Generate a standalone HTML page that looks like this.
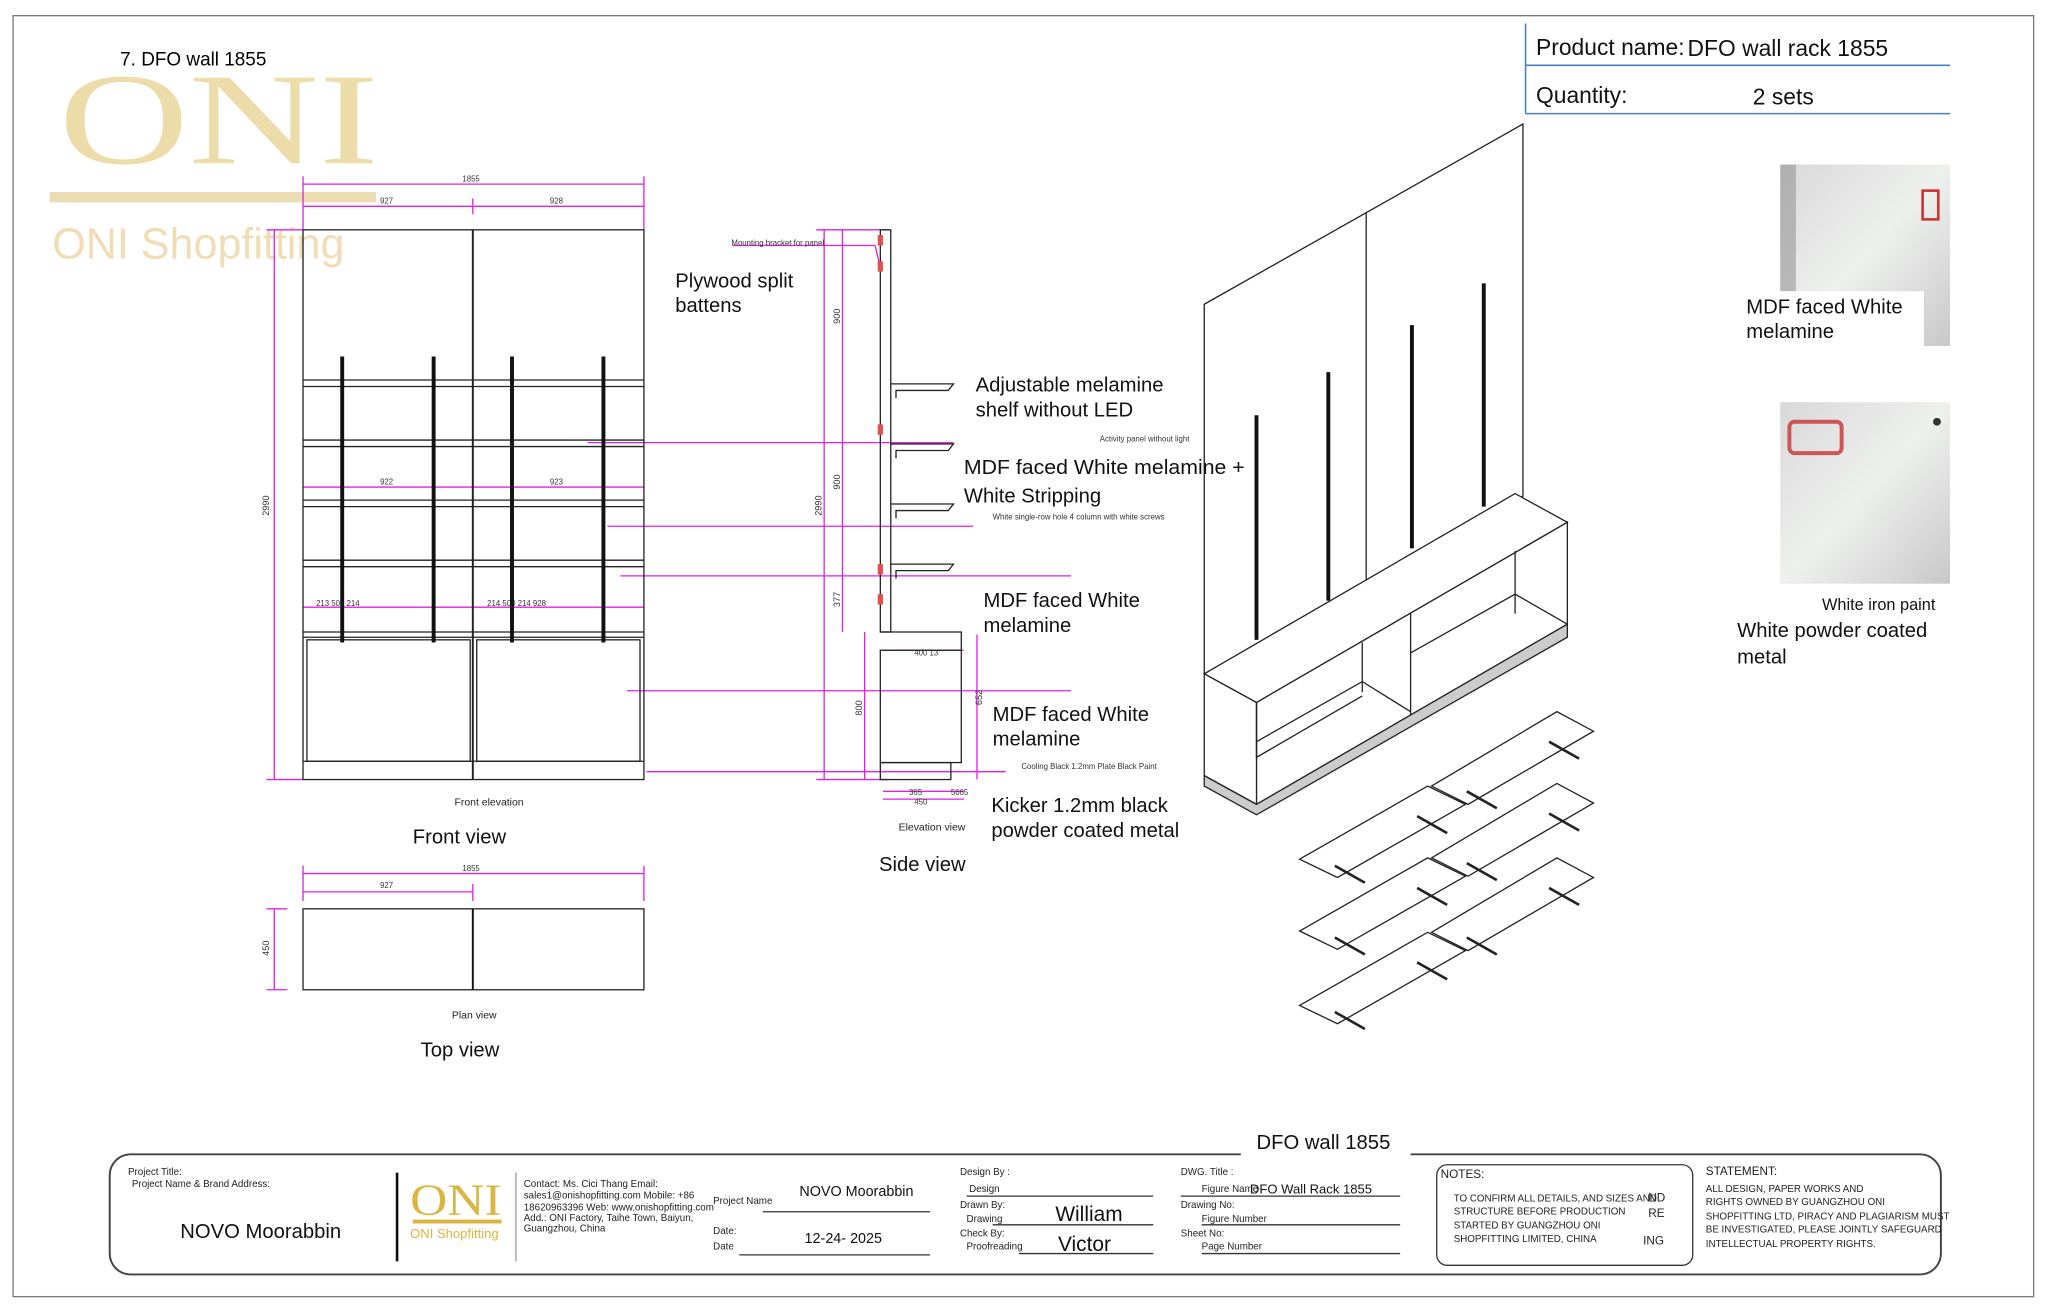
<!DOCTYPE html>
<html><head><meta charset="utf-8"><style>
html,body{margin:0;padding:0;background:#fff;}
svg{display:block;}
</style></head><body>
<svg width="2048" height="1311" viewBox="0 0 1568 1004" preserveAspectRatio="none" xmlns="http://www.w3.org/2000/svg" font-family="Liberation Sans, sans-serif">
<rect x="0" y="0" width="1568" height="1004" fill="#fff"/>
<rect x="10" y="12" width="1547" height="981" fill="none" stroke="#777" stroke-width="1"/>
<!-- logo -->
<text x="45" y="125" style="font-family:'Liberation Serif',serif" font-size="100" fill="#ecdcaa" textLength="245" lengthAdjust="spacingAndGlyphs">ONI</text>
<rect x="38" y="147" width="250" height="8" fill="#ecdcb4"/>
<text x="40" y="198" font-size="33" fill="#f0ddb6">ONI Shopfitting</text>
<text x="92" y="50" font-size="14.5" fill="#000">7. DFO wall 1855</text>

<g stroke="#e020e0" stroke-width="1" fill="none">
<line x1="232" y1="141" x2="493" y2="141"/><line x1="232" y1="158" x2="493" y2="158"/>
<line x1="232" y1="135" x2="232" y2="176"/><line x1="362" y1="152" x2="362" y2="164"/><line x1="493" y1="135" x2="493" y2="176"/>
<line x1="210" y1="176" x2="210" y2="597"/><line x1="204" y1="176" x2="232" y2="176"/><line x1="204" y1="597" x2="232" y2="597"/>
<line x1="232" y1="373" x2="493" y2="373"/>
<line x1="232" y1="465" x2="493" y2="465"/>
<line x1="450" y1="339" x2="730" y2="339"/>
<line x1="465" y1="403" x2="745" y2="403"/>
<line x1="475" y1="441" x2="820" y2="441"/>
<line x1="480" y1="529" x2="820" y2="529"/>
<line x1="495" y1="591" x2="770" y2="591"/>
<line x1="232" y1="669" x2="493" y2="669"/><line x1="232" y1="683" x2="362" y2="683"/>
<line x1="232" y1="663" x2="232" y2="690"/><line x1="493" y1="663" x2="493" y2="690"/><line x1="362" y1="677" x2="362" y2="690"/>
<line x1="210" y1="696" x2="210" y2="758"/><line x1="204" y1="696" x2="220" y2="696"/><line x1="204" y1="758" x2="220" y2="758"/>
<line x1="631" y1="176" x2="631" y2="597"/><line x1="645" y1="176" x2="645" y2="484"/><line x1="662" y1="484" x2="662" y2="597"/>
<line x1="625" y1="176" x2="680" y2="176"/><line x1="625" y1="597" x2="680" y2="597"/>
<line x1="561" y1="188" x2="670" y2="188"/><line x1="670" y1="188" x2="674" y2="205"/>
<line x1="676" y1="498" x2="738" y2="498"/><line x1="748" y1="486" x2="748" y2="597"/>
<line x1="676" y1="606" x2="738" y2="606"/><line x1="676" y1="612" x2="738" y2="612"/>
</g>
<g font-size="6" fill="#333">
<text x="354" y="139">1855</text><text x="291" y="156">927</text><text x="421" y="156">928</text>
<text x="291" y="371">922</text><text x="421" y="371">923</text>
<text x="242" y="464">213 500 214</text><text x="373" y="464">214 500 214 928</text>
<text x="354" y="667">1855</text><text x="291" y="680">927</text>
<text x="560" y="188">Mounting bracket for panel</text>
<text x="842" y="338">Activity panel without light</text>
<text x="760" y="398">White single-row hole 4 column with white screws</text>
<text x="782" y="589">Cooling Black 1.2mm Plate Black Paint</text>
<text x="700" y="502">400 13</text><text x="696" y="609">365</text><text x="728" y="609">5665</text><text x="700" y="616">450</text>
</g>
<g font-size="7" fill="#333">
<text transform="translate(206,395) rotate(-90)">2990</text>
<text transform="translate(206,732) rotate(-90)">450</text>
<text transform="translate(629,395) rotate(-90)">2990</text>
<text transform="translate(643,248) rotate(-90)">900</text>
<text transform="translate(643,375) rotate(-90)">900</text>
<text transform="translate(643,465) rotate(-90)">377</text>
<text transform="translate(660,548) rotate(-90)">800</text>
<text transform="translate(752,540) rotate(-90)">652</text>
</g>

<g stroke="#222" fill="none" stroke-width="1">
<rect x="232" y="176" width="261" height="421"/>
<line x1="362" y1="176" x2="362" y2="597" stroke-width="1.5"/>
<line x1="232" y1="291" x2="493" y2="291"/><line x1="232" y1="296" x2="493" y2="296"/>
<line x1="232" y1="337" x2="493" y2="337"/><line x1="232" y1="342" x2="493" y2="342"/>
<line x1="232" y1="383" x2="493" y2="383"/><line x1="232" y1="388" x2="493" y2="388"/>
<line x1="232" y1="429" x2="493" y2="429"/><line x1="232" y1="434" x2="493" y2="434"/>
<line x1="232" y1="484" x2="493" y2="484"/><line x1="232" y1="488" x2="493" y2="488"/>
<rect x="235" y="490" width="125" height="93"/><rect x="365" y="490" width="125" height="93"/>
<line x1="232" y1="583" x2="493" y2="583"/>
</g>
<g stroke="#111" stroke-width="3">
<line x1="262" y1="273" x2="262" y2="492"/><line x1="332" y1="273" x2="332" y2="492"/>
<line x1="392" y1="273" x2="392" y2="492"/><line x1="462" y1="273" x2="462" y2="492"/>
</g>
<text x="348" y="617" font-size="8" fill="#222">Front elevation</text>
<text x="316" y="646" font-size="15.5" fill="#111">Front view</text>
<rect x="232" y="696" width="261" height="62" fill="none" stroke="#222"/>
<line x1="362" y1="696" x2="362" y2="758" stroke="#111" stroke-width="1.5"/>
<text x="346" y="780" font-size="8" fill="#222">Plan view</text>
<text x="322" y="809" font-size="15.5" fill="#111">Top view</text>

<g stroke="#222" fill="none">
<rect x="674" y="176" width="8" height="308"/>
<rect x="674" y="498" width="62" height="86"/>
<rect x="674" y="584" width="54" height="13"/>
<path d="M682 294 H730 L726 299 H686 V305"/>
<path d="M682 340 H730 L726 345 H686 V351"/>
<path d="M682 386 H730 L726 391 H686 V397"/>
<path d="M682 432 H730 L726 437 H686 V443"/>
<path d="M674 484 H736 V498"/>
</g>
<g fill="#e05050"><rect x="672" y="180" width="4" height="8"/><rect x="672" y="200" width="4" height="8"/><rect x="672" y="325" width="4" height="8"/><rect x="672" y="432" width="4" height="8"/><rect x="672" y="455" width="4" height="8"/></g>
<text x="688" y="636" font-size="8" fill="#222">Elevation view</text>
<text x="673" y="667" font-size="15.5" fill="#111">Side view</text>

<!-- isometric -->
<g stroke="#222" fill="none" stroke-width="1">
<polygon points="922,233 1166,95 1166,380 922,516"/>
<line x1="1046" y1="163" x2="1046" y2="446"/>
<polygon points="922,516 1160,378 1200,400 962,538" fill="#fff"/>
<polygon points="962,538 1200,400 1200,478 962,616" fill="#fff"/>
<polygon points="922,516 962,538 962,616 922,594" fill="#fff"/>
<line x1="1080" y1="469" x2="1080" y2="548"/>
<line x1="1043" y1="492" x2="1043" y2="530"/>
<line x1="1160" y1="422" x2="1160" y2="470"/>
<polyline points="962,568 1043,522 1080,545"/>
<polyline points="1080,500 1160,455 1200,478"/>
<polyline points="962,538 962,580 1043,533"/>
<polygon points="922,594 962,616 1200,478 1200,488 962,624 922,602" fill="#ccc"/>
</g>
<g stroke="#111" stroke-width="3">
<line x1="962" y1="318" x2="962" y2="490"/><line x1="1017" y1="285" x2="1017" y2="460"/>
<line x1="1081" y1="249" x2="1081" y2="420"/><line x1="1136" y1="217" x2="1136" y2="388"/>
</g>
<g stroke="#222" fill="#fff">
<polygon points="995,658 1093,602 1122,616 1024,672"/><polygon points="1096,602 1192,545 1220,560 1124,616"/>
<polygon points="995,713 1093,657 1122,671 1024,727"/><polygon points="1096,657 1192,600 1220,615 1124,671"/>
<polygon points="995,770 1093,714 1122,728 1024,784"/><polygon points="1096,714 1192,657 1220,672 1124,728"/>
</g>
<g stroke="#222" stroke-width="2">
<line x1="1022" y1="663" x2="1045" y2="676"/><line x1="1085" y1="625" x2="1108" y2="638"/>
<line x1="1123" y1="606" x2="1146" y2="619"/><line x1="1186" y1="568" x2="1209" y2="581"/>
<line x1="1022" y1="718" x2="1045" y2="731"/><line x1="1085" y1="680" x2="1108" y2="693"/>
<line x1="1123" y1="661" x2="1146" y2="674"/><line x1="1186" y1="623" x2="1209" y2="636"/>
<line x1="1022" y1="775" x2="1045" y2="788"/><line x1="1085" y1="737" x2="1108" y2="750"/>
<line x1="1123" y1="718" x2="1146" y2="731"/><line x1="1186" y1="680" x2="1209" y2="693"/>
</g>

<g font-size="15.5" fill="#111">
<text x="517" y="220">Plywood split</text><text x="517" y="239">battens</text>
<text x="747" y="300">Adjustable melamine</text><text x="747" y="319">shelf without LED</text>
<text x="738" y="363" textLength="215" lengthAdjust="spacingAndGlyphs">MDF faced White melamine +</text><text x="738" y="385">White Stripping</text>
<text x="753" y="465">MDF faced White</text><text x="753" y="484">melamine</text>
<text x="760" y="552">MDF faced White</text><text x="760" y="571">melamine</text>
<text x="759" y="622">Kicker 1.2mm black</text><text x="759" y="641">powder coated metal</text>
</g>

<g stroke="#4a7fc0" stroke-width="1.2">
<line x1="1168" y1="18" x2="1168" y2="87"/><line x1="1168" y1="50" x2="1493" y2="50"/><line x1="1168" y1="87" x2="1493" y2="87"/>
</g>
<text x="1176" y="42" font-size="17.5" fill="#111">Product name:</text>
<text x="1292" y="43" font-size="17.5" fill="#111">DFO wall rack 1855</text>
<text x="1176" y="79" font-size="17.5" fill="#111">Quantity:</text>
<text x="1342" y="80" font-size="17.5" fill="#111">2 sets</text>

<defs><linearGradient id="g1" x1="0" y1="0" x2="1" y2="1"><stop offset="0" stop-color="#d8d8d8"/><stop offset="0.5" stop-color="#eef0ee"/><stop offset="1" stop-color="#c8c8c8"/></linearGradient></defs>
<rect x="1363" y="126" width="130" height="139" fill="url(#g1)"/>
<rect x="1363" y="126" width="12" height="100" fill="#888" opacity="0.5"/>
<rect x="1472" y="146" width="12" height="22" fill="none" stroke="#c33" stroke-width="2"/>
<rect x="1333" y="223" width="140" height="42" fill="#fff"/>
<text x="1337" y="240" font-size="15.5" fill="#111">MDF faced White</text>
<text x="1337" y="259" font-size="15.5" fill="#111">melamine</text>
<rect x="1363" y="308" width="130" height="139" fill="url(#g1)"/>
<rect x="1370" y="323" width="40" height="24" rx="4" fill="none" stroke="#c55" stroke-width="3"/>
<circle cx="1483" cy="323" r="3" fill="#333"/>
<text x="1395" y="467" font-size="12.5" fill="#111">White iron paint</text>
<text x="1330" y="488" font-size="15.5" fill="#111">White powder coated</text>
<text x="1330" y="508" font-size="15.5" fill="#111">metal</text>

<!-- title block -->
<rect x="84" y="884" width="1402" height="92" rx="16" fill="none" stroke="#444" stroke-width="1.5"/>
<rect x="950" y="880" width="130" height="8" fill="#fff"/>
<text x="962" y="880" font-size="15.5" fill="#111">DFO wall 1855</text>
<g font-size="7.5" fill="#222">
<text x="98" y="900">Project Title:</text><text x="101" y="909">Project Name &amp; Brand Address:</text>
<text x="401" y="909">Contact: Ms. Cici Thang Email:</text><text x="401" y="918">sales1@onishopfitting.com Mobile: +86</text>
<text x="401" y="927">18620963396 Web: www.onishopfitting.com</text><text x="401" y="935">Add.: ONI Factory, Taihe Town, Baiyun,</text><text x="401" y="943">Guangzhou, China</text>
<text x="546" y="922">Project Name</text><text x="546" y="945">Date:</text><text x="546" y="957">Date</text>
<text x="735" y="900">Design By    :</text><text x="742" y="913">Design</text><text x="735" y="925">Drawn By:</text><text x="740" y="936">Drawing</text>
<text x="735" y="947">Check By:</text><text x="740" y="957">Proofreading</text>
<text x="904" y="900">DWG. Title    :</text><text x="920" y="913">Figure Name</text><text x="904" y="925">Drawing No:</text><text x="920" y="936">Figure Number</text>
<text x="904" y="947">Sheet No:</text><text x="920" y="957">Page Number</text>
<text x="1103" y="902" font-size="9">NOTES:</text>
<text x="1113" y="920">TO CONFIRM ALL DETAILS, AND SIZES AND</text><text x="1113" y="930">STRUCTURE BEFORE PRODUCTION</text>
<text x="1113" y="941">STARTED BY GUANGZHOU ONI</text><text x="1113" y="951">SHOPFITTING LIMITED, CHINA</text>
<text x="1262" y="920" font-size="9">ND</text><text x="1262" y="932" font-size="9">RE</text><text x="1258" y="953" font-size="9">ING</text>
<text x="1306" y="900" font-size="9">STATEMENT:</text>
<text x="1306" y="913">ALL DESIGN, PAPER WORKS AND</text><text x="1306" y="923">RIGHTS OWNED BY GUANGZHOU ONI</text>
<text x="1306" y="934">SHOPFITTING LTD, PIRACY AND PLAGIARISM MUST</text><text x="1306" y="944">BE INVESTIGATED, PLEASE JOINTLY SAFEGUARD</text>
<text x="1306" y="955">INTELLECTUAL PROPERTY RIGHTS.</text>
</g>
<text x="138" y="948" font-size="15.5" fill="#111">NOVO Moorabbin</text>
<line x1="304" y1="898" x2="304" y2="966" stroke="#111" stroke-width="2"/>
<line x1="395" y1="898" x2="395" y2="966" stroke="#999"/>
<text x="314" y="930" style="font-family:'Liberation Serif',serif" font-size="34" fill="#d9b640" textLength="70" lengthAdjust="spacingAndGlyphs">ONI</text>
<rect x="316" y="934" width="68" height="3" fill="#d9b640"/>
<text x="314" y="948" font-size="10" fill="#d9b640">ONI Shopfitting</text>
<text x="612" y="916" font-size="11" fill="#111">NOVO Moorabbin</text>
<text x="616" y="952" font-size="11" fill="#111">12-24- 2025</text>
<text x="808" y="935" font-size="16" fill="#111">William</text>
<text x="810" y="958" font-size="16" fill="#111">Victor</text>
<text x="957" y="914" font-size="10" fill="#111">DFO Wall Rack 1855</text>
<g stroke="#333">
<line x1="584" y1="928" x2="712" y2="928"/><line x1="566" y1="961" x2="712" y2="961"/>
<line x1="740" y1="916" x2="883" y2="916"/><line x1="760" y1="938" x2="883" y2="938"/><line x1="780" y1="960" x2="883" y2="960"/>
<line x1="904" y1="916" x2="1072" y2="916"/><line x1="920" y1="938" x2="1072" y2="938"/><line x1="920" y1="960" x2="1072" y2="960"/>
</g>
<rect x="1100" y="892" width="196" height="77" rx="8" fill="none" stroke="#333"/>
</svg>
</body></html>
